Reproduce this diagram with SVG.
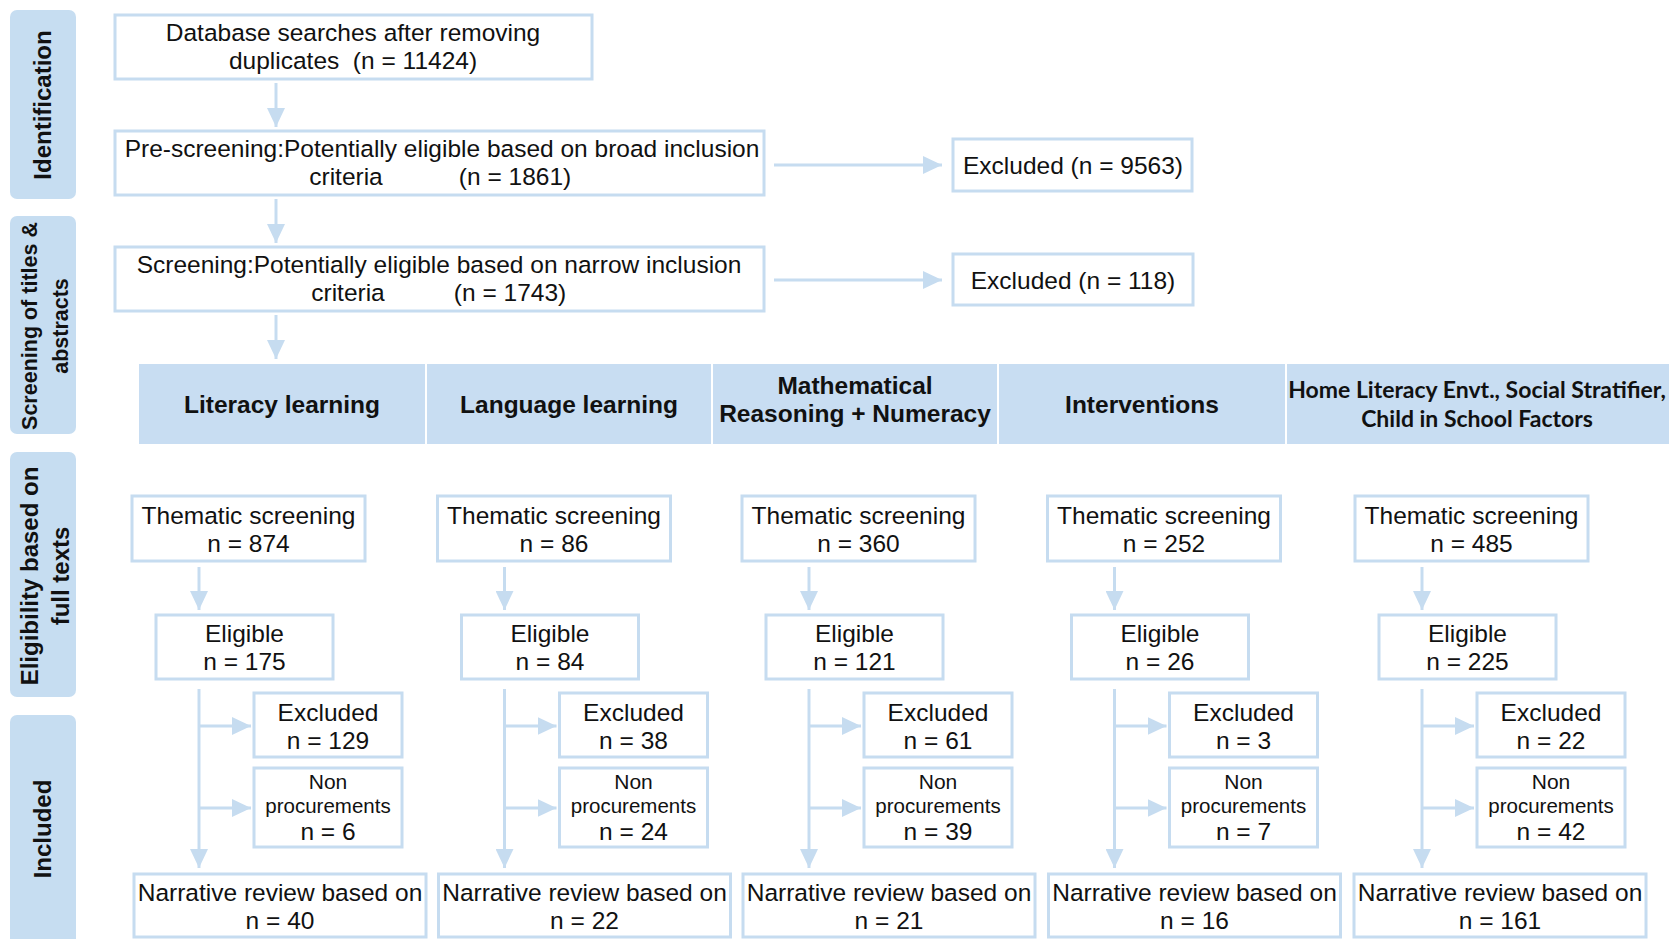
<svg xmlns="http://www.w3.org/2000/svg" width="1669" height="939" viewBox="0 0 1669 939">
<style>
.box{fill:#fff;stroke:#c6dcf0;stroke-width:3}
.side{fill:#c6ddf1}
.t{font-family:"Liberation Sans",Arial,sans-serif;font-size:24.5px;fill:#111;text-anchor:middle}
.s{font-family:"Liberation Sans",Arial,sans-serif;font-size:21px;fill:#111;text-anchor:middle}
.h{font-family:"Liberation Sans",Arial,sans-serif;font-size:24.5px;font-weight:bold;fill:#111;text-anchor:middle}
.hc{font-family:Lato,"Open Sans",sans-serif;font-size:23px;font-weight:bold;fill:#111;text-anchor:middle}
.sl{font-family:"Liberation Sans",Arial,sans-serif;font-size:24px;font-weight:bold;fill:#111;text-anchor:middle}
.ln{fill:none;stroke:#c6dcf0;stroke-width:3}
</style>
<defs>
<marker id="ah" viewBox="0 0 19 18" refX="19" refY="9" markerWidth="19" markerHeight="18" markerUnits="userSpaceOnUse" orient="auto">
<path d="M0,0 L19,9 L0,18 Z" fill="#c6dcf0"/>
</marker>
</defs>
<rect width="1669" height="939" fill="#fff"/>

<g id="side-identification">
<rect class="side" x="10" y="10" width="66" height="189" rx="7"/>
<text class="sl" transform="translate(51,105) rotate(-90)">Identification</text>
</g>
<g id="side-screening">
<rect class="side" x="10" y="216" width="66" height="218" rx="7"/>
<text class="sl" style="font-size:21.5px" transform="translate(37,326) rotate(-90)">Screening of titles &amp;</text>
<text class="sl" style="font-size:21.5px" transform="translate(68,326) rotate(-90)">abstracts</text>
</g>
<g id="side-eligibility">
<rect class="side" x="10" y="452" width="66" height="245" rx="7"/>
<text class="sl" transform="translate(38,576) rotate(-90)">Eligibility based on</text>
<text class="sl" transform="translate(69,576) rotate(-90)">full texts</text>
</g>
<g id="side-included">
<rect class="side" x="10" y="715" width="66" height="240" rx="7"/>
<text class="sl" transform="translate(51,829) rotate(-90)">Included</text>
</g>

<g id="connectors">
<line class="ln" x1="276" y1="83" x2="276" y2="127" marker-end="url(#ah)"/>
<line class="ln" x1="276" y1="199" x2="276" y2="243" marker-end="url(#ah)"/>
<line class="ln" x1="276" y1="315" x2="276" y2="359" marker-end="url(#ah)"/>
<line class="ln" x1="774" y1="165" x2="942" y2="165" marker-end="url(#ah)"/>
<line class="ln" x1="774" y1="280" x2="942" y2="280" marker-end="url(#ah)"/>
<g id="col-arrows-1">
<line class="ln" x1="199" y1="567" x2="199" y2="610" marker-end="url(#ah)"/>
<line class="ln" x1="199" y1="689" x2="199" y2="868" marker-end="url(#ah)"/>
<line class="ln" x1="199" y1="726" x2="251" y2="726" marker-end="url(#ah)"/>
<line class="ln" x1="199" y1="808" x2="251" y2="808" marker-end="url(#ah)"/>
</g>
<use href="#col-arrows-1" transform="translate(305.5,0)"/>
<use href="#col-arrows-1" transform="translate(610,0)"/>
<use href="#col-arrows-1" transform="translate(915.5,0)"/>
<use href="#col-arrows-1" transform="translate(1223,0)"/>
</g>

<g id="n-database">
<rect class="box" x="115" y="15" width="477" height="64"/>
<text class="t" x="353" y="41">Database searches after removing</text>
<text class="t" x="353" y="69" xml:space="preserve">duplicates  (n = 11424)</text>
</g>
<g id="n-prescreening">
<rect class="box" x="115" y="131" width="649" height="64"/>
<text class="t" x="442" y="157">Pre-screening:Potentially eligible based on broad inclusion</text>
<text class="t" x="346" y="185">criteria</text>
<text class="t" x="515" y="185">(n = 1861)</text>
</g>
<g id="n-excl-9563">
<rect class="box" x="953" y="139" width="239" height="52"/>
<text class="t" x="1073" y="174">Excluded (n = 9563)</text>
</g>
<g id="n-screening">
<rect class="box" x="115" y="247" width="649" height="64"/>
<text class="t" x="439" y="273">Screening:Potentially eligible based on narrow inclusion</text>
<text class="t" x="348" y="301">criteria</text>
<text class="t" x="510" y="301">(n = 1743)</text>
</g>
<g id="n-excl-118">
<rect class="box" x="953" y="254" width="240" height="51"/>
<text class="t" x="1073" y="289">Excluded (n = 118)</text>
</g>

<g id="header">
<rect x="139" y="364" width="1530" height="80" fill="#c8ddf2"/>
<g stroke="#fff" stroke-width="2">
<line x1="426" y1="364" x2="426" y2="444"/>
<line x1="712" y1="364" x2="712" y2="444"/>
<line x1="998" y1="364" x2="998" y2="444"/>
<line x1="1286" y1="364" x2="1286" y2="444"/>
</g>
<text class="h" x="282" y="413">Literacy learning</text>
<text class="h" x="569" y="413">Language learning</text>
<text class="h" x="855" y="394">Mathematical</text>
<text class="h" x="855" y="422">Reasoning + Numeracy</text>
<text class="h" x="1142" y="413">Interventions</text>
<text class="hc" x="1477" y="398">Home Literacy Envt., Social Stratifier,</text>
<text class="hc" x="1477" y="427">Child in School Factors</text>
</g>

<g id="col1">
<g id="c1-thematic"><rect class="box" x="132" y="496" width="233" height="65"/><text class="t" x="248.5" y="524">Thematic screening</text><text class="t" x="248.5" y="552">n = 874</text></g>
<g id="c1-eligible"><rect class="box" x="156" y="615" width="177" height="64"/><text class="t" x="244.5" y="642">Eligible</text><text class="t" x="244.5" y="670">n = 175</text></g>
<g id="c1-excluded"><rect class="box" x="254" y="693" width="148" height="64"/><text class="t" x="328" y="721">Excluded</text><text class="t" x="328" y="749">n = 129</text></g>
<g id="c1-nonproc"><rect class="box" x="254" y="768" width="148" height="79"/><text class="s" x="328" y="789">Non</text><text class="s" style="font-size:20.5px" x="328" y="813">procurements</text><text class="t" x="328" y="840">n = 6</text></g>
<g id="c1-narrative"><rect class="box" x="134" y="874" width="292" height="63"/><text class="t" x="280" y="901">Narrative review based on</text><text class="t" x="280" y="929">n = 40</text></g>
</g>

<g id="col2" transform="translate(305.5,0)">
<g id="c2-thematic"><rect class="box" x="132" y="496" width="233" height="65"/><text class="t" x="248.5" y="524">Thematic screening</text><text class="t" x="248.5" y="552">n = 86</text></g>
<g id="c2-eligible"><rect class="box" x="156" y="615" width="177" height="64"/><text class="t" x="244.5" y="642">Eligible</text><text class="t" x="244.5" y="670">n = 84</text></g>
<g id="c2-excluded"><rect class="box" x="254" y="693" width="148" height="64"/><text class="t" x="328" y="721">Excluded</text><text class="t" x="328" y="749">n = 38</text></g>
<g id="c2-nonproc"><rect class="box" x="254" y="768" width="148" height="79"/><text class="s" x="328" y="789">Non</text><text class="s" style="font-size:20.5px" x="328" y="813">procurements</text><text class="t" x="328" y="840">n = 24</text></g>
<g id="c2-narrative"><rect class="box" x="133" y="874" width="292" height="63"/><text class="t" x="279" y="901">Narrative review based on</text><text class="t" x="279" y="929">n = 22</text></g>
</g>

<g id="col3" transform="translate(610,0)">
<g id="c3-thematic"><rect class="box" x="132" y="496" width="233" height="65"/><text class="t" x="248.5" y="524">Thematic screening</text><text class="t" x="248.5" y="552">n = 360</text></g>
<g id="c3-eligible"><rect class="box" x="156" y="615" width="177" height="64"/><text class="t" x="244.5" y="642">Eligible</text><text class="t" x="244.5" y="670">n = 121</text></g>
<g id="c3-excluded"><rect class="box" x="254" y="693" width="148" height="64"/><text class="t" x="328" y="721">Excluded</text><text class="t" x="328" y="749">n = 61</text></g>
<g id="c3-nonproc"><rect class="box" x="254" y="768" width="148" height="79"/><text class="s" x="328" y="789">Non</text><text class="s" style="font-size:20.5px" x="328" y="813">procurements</text><text class="t" x="328" y="840">n = 39</text></g>
<g id="c3-narrative"><rect class="box" x="133" y="874" width="292" height="63"/><text class="t" x="279" y="901">Narrative review based on</text><text class="t" x="279" y="929">n = 21</text></g>
</g>

<g id="col4" transform="translate(915.5,0)">
<g id="c4-thematic"><rect class="box" x="132" y="496" width="233" height="65"/><text class="t" x="248.5" y="524">Thematic screening</text><text class="t" x="248.5" y="552">n = 252</text></g>
<g id="c4-eligible"><rect class="box" x="156" y="615" width="177" height="64"/><text class="t" x="244.5" y="642">Eligible</text><text class="t" x="244.5" y="670">n = 26</text></g>
<g id="c4-excluded"><rect class="box" x="254" y="693" width="148" height="64"/><text class="t" x="328" y="721">Excluded</text><text class="t" x="328" y="749">n = 3</text></g>
<g id="c4-nonproc"><rect class="box" x="254" y="768" width="148" height="79"/><text class="s" x="328" y="789">Non</text><text class="s" style="font-size:20.5px" x="328" y="813">procurements</text><text class="t" x="328" y="840">n = 7</text></g>
<g id="c4-narrative"><rect class="box" x="133" y="874" width="292" height="63"/><text class="t" x="279" y="901">Narrative review based on</text><text class="t" x="279" y="929">n = 16</text></g>
</g>

<g id="col5" transform="translate(1223,0)">
<g id="c5-thematic"><rect class="box" x="132" y="496" width="233" height="65"/><text class="t" x="248.5" y="524">Thematic screening</text><text class="t" x="248.5" y="552">n = 485</text></g>
<g id="c5-eligible"><rect class="box" x="156" y="615" width="177" height="64"/><text class="t" x="244.5" y="642">Eligible</text><text class="t" x="244.5" y="670">n = 225</text></g>
<g id="c5-excluded"><rect class="box" x="254" y="693" width="148" height="64"/><text class="t" x="328" y="721">Excluded</text><text class="t" x="328" y="749">n = 22</text></g>
<g id="c5-nonproc"><rect class="box" x="254" y="768" width="148" height="79"/><text class="s" x="328" y="789">Non</text><text class="s" style="font-size:20.5px" x="328" y="813">procurements</text><text class="t" x="328" y="840">n = 42</text></g>
<g id="c5-narrative"><rect class="box" x="131" y="874" width="292" height="63"/><text class="t" x="277" y="901">Narrative review based on</text><text class="t" x="277" y="929">n = 161</text></g>
</g>
</svg>
